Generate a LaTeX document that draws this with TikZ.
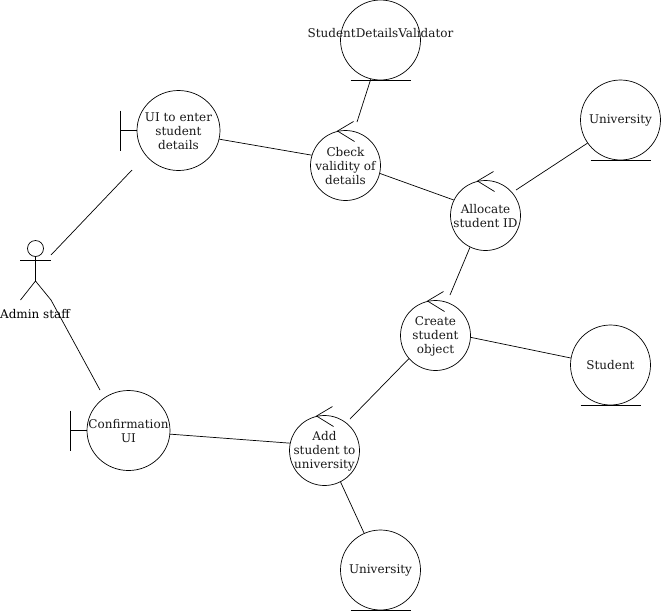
\documentclass[tikz,border=0pt]{standalone}
\usepackage{fontspec}
\setmainfont{DejaVu Serif}
\usetikzlibrary{shapes.geometric}

\tikzset{
  every label/.style={align=center, inner sep=0, text=black!90, yshift=-.5},
  every path/.style={line width=.7pt},
  entity/.style={circle, draw, minimum size=80, inner sep=0},
  ctrl/.style={circle, draw, minimum size=70, inner sep=0},
  bound/.style={ellipse, draw, minimum width=83, minimum height=80, inner sep=0},
}

\begin{document}
\begin{tikzpicture}[x=1pt, y=-1pt, font=\fontsize{12}{14}\selectfont]
\useasboundingbox (0, 0) rectangle (661, 611);

\node[circle, draw, minimum size=16, inner sep=0] (head) at (35.5, 248.5) {}; %actor
\coordinate (hip) at (35.5, 281);
\coordinate (armleft) at (20, 260.5);
\coordinate (armright) at (50.5, 260.5);
\coordinate (footleft) at (20.5, 300);
\coordinate (footright) at (51, 300);
\coordinate (actortop) at (51, 255);
\draw (head.south) -- (hip);
\draw (armleft) -- (armright);
\draw (footleft) -- (hip) -- (footright);
\node[inner sep=0] (adminlabel) at (35, 314.5) {Admin staff};

\node[bound, label={center:UI to enter\\student\\details}] (ui) at (178.5, 130.5) {};
\node[bound, label={center:Confirmation\\UI}] (confirm) at (128.5, 430.5) {};

\foreach \b in {ui, confirm}{
  \draw (\b.west) -- ++(-16.5, 0) coordinate (\b bar);
  \draw ([yshift=20]\b bar) -- ([yshift=-20]\b bar);
}

\node[ctrl, label={center:Cbeck\\validity of\\details}] (check) at (345.5, 165.5) {};
\node[ctrl, label={center:Allocate\\student ID}] (allocate) at (485.5, 215.5) {};
\node[ctrl, label={center:Create\\student\\object}] (create) at (435.5, 335.5) {};
\node[ctrl, label={center:Add\\student to\\university}] (add) at (324.5, 450.5) {};

\foreach \c in {check, allocate, create, add}{
  \draw ([shift={(8, -44)}]\c.center) -- ([shift={(-8, -34.5)}]\c.center) -- ([shift={(9, -24)}]\c.center);
}

\node[entity, label={[yshift=7]center:StudentDetailsValidator}] (validator) at (380.5, 40) {};
\node[entity, label={center:University}] (uni1) at (620.5, 120) {};
\node[entity, label={center:Student}] (student) at (610.5, 365) {};
\node[entity, label={center:University}] (uni2) at (380.5, 570) {};

\foreach \e in {validator, uni1, student, uni2}{
  \draw ([xshift=-30]\e.south) -- ([xshift=30]\e.south);
}

\coordinate (uiend) at (132, 170);
\coordinate (confirmend) at (100, 390);
\coordinate (checkend) at (357, 122);
\coordinate (createend) at (450, 295);
\coordinate (allocateend) at (516, 190);
\coordinate (addend) at (350, 419);

\draw (actortop) -- (uiend);
\draw (footright) -- (confirmend);
\draw (ui.-12) -- (check.163);
\draw (validator.256) -- (checkend);
\draw (check.-13) -- (allocate.154);
\draw (allocateend) -- (uni1.215);
\draw (allocate.244) -- (createend);
\draw (create.-3) -- (student.170);
\draw (create.221) -- (addend);
\draw (confirm.-5) -- (add.168);
\draw (add.-63) -- (uni2.114);

\end{tikzpicture}
\end{document}
